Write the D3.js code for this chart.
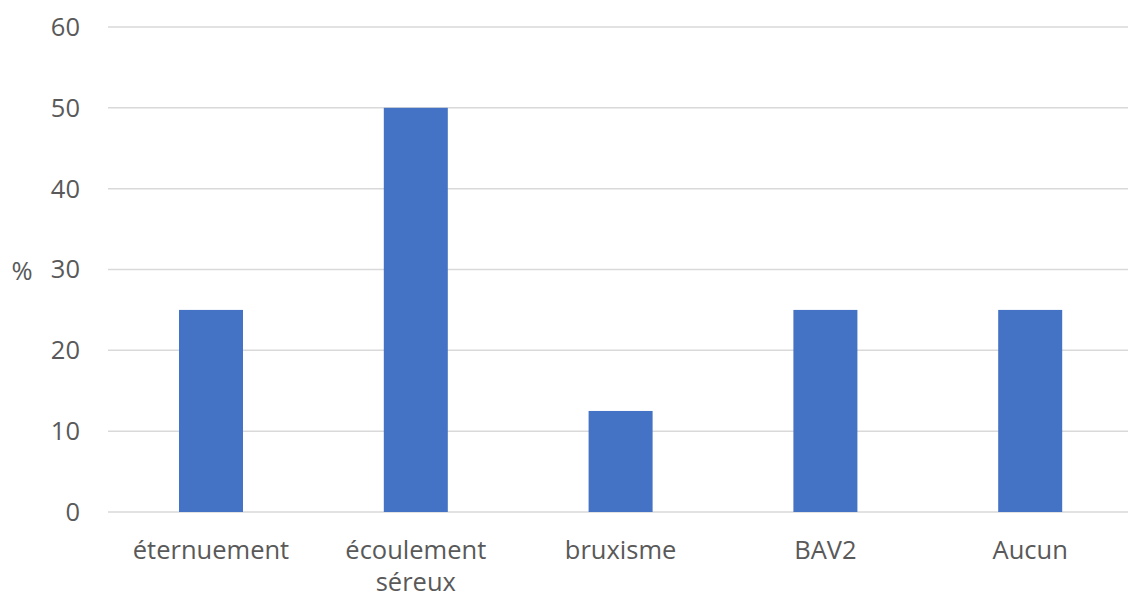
<!DOCTYPE html>
<html><head><meta charset="utf-8">
<script src="https://cdn.jsdelivr.net/npm/d3@7"></script>
<style>body{margin:0;background:#fff}svg{display:block}</style>
</head><body>
<svg id="c" width="1128" height="598"></svg>
<script>
const categories = [["éternuement"], ["écoulement", "séreux"], ["bruxisme"], ["BAV2"], ["Aucun"]];
const values = [25, 50, 12.5, 25, 25];
const yTicks = [0, 10, 20, 30, 40, 50, 60];
const yLabel = "%";

(function() {
const svg = d3.select("#c");
const mLeft = 108, mRight = 1128, mTop = 27, mBottom = 512;
const font = "'Open Sans', 'Noto Sans', sans-serif";
const fs = 25.5;
const x = d3.scaleBand().domain(d3.range(categories.length)).range([108.6, 1132.6]).paddingInner(0.6875).paddingOuter(0.34375);
const y = d3.scaleLinear().domain([0, 60]).range([mBottom, mTop]);

svg.append("g").selectAll("line").data(yTicks).join("line")
  .attr("x1", mLeft).attr("x2", mRight)
  .attr("y1", d => y(d)).attr("y2", d => y(d))
  .attr("stroke", "#d9d9d9").attr("stroke-width", 1.5);

svg.append("g").selectAll("rect").data(values).join("rect")
  .attr("x", (d, i) => x(i)).attr("width", x.bandwidth())
  .attr("y", d => y(d)).attr("height", d => y(0) - y(d))
  .attr("fill", "#4472C4");

svg.append("g").selectAll("text").data(yTicks).join("text")
  .attr("x", 80).attr("y", d => y(d)).attr("dy", "0.35em")
  .attr("text-anchor", "end").attr("font-family", font).attr("font-size", fs)
  .attr("fill", "#595959").text(d => d);

svg.append("text").attr("x", 22).attr("y", y(30)).attr("dy", "0.4em")
  .attr("text-anchor", "middle").attr("font-family", font).attr("font-size", fs)
  .attr("fill", "#595959").text(yLabel);

const xl = svg.append("g").selectAll("text").data(categories).join("text")
  .attr("text-anchor", "middle").attr("font-family", font).attr("font-size", fs)
  .attr("fill", "#595959");
xl.each(function(lines, i) {
  d3.select(this).selectAll("tspan").data(lines).join("tspan")
    .attr("x", x(i) + x.bandwidth() / 2)
    .attr("y", (d, j) => 559 + j * 32)
    .text(d => d);
});
})();
</script>
</body></html>
